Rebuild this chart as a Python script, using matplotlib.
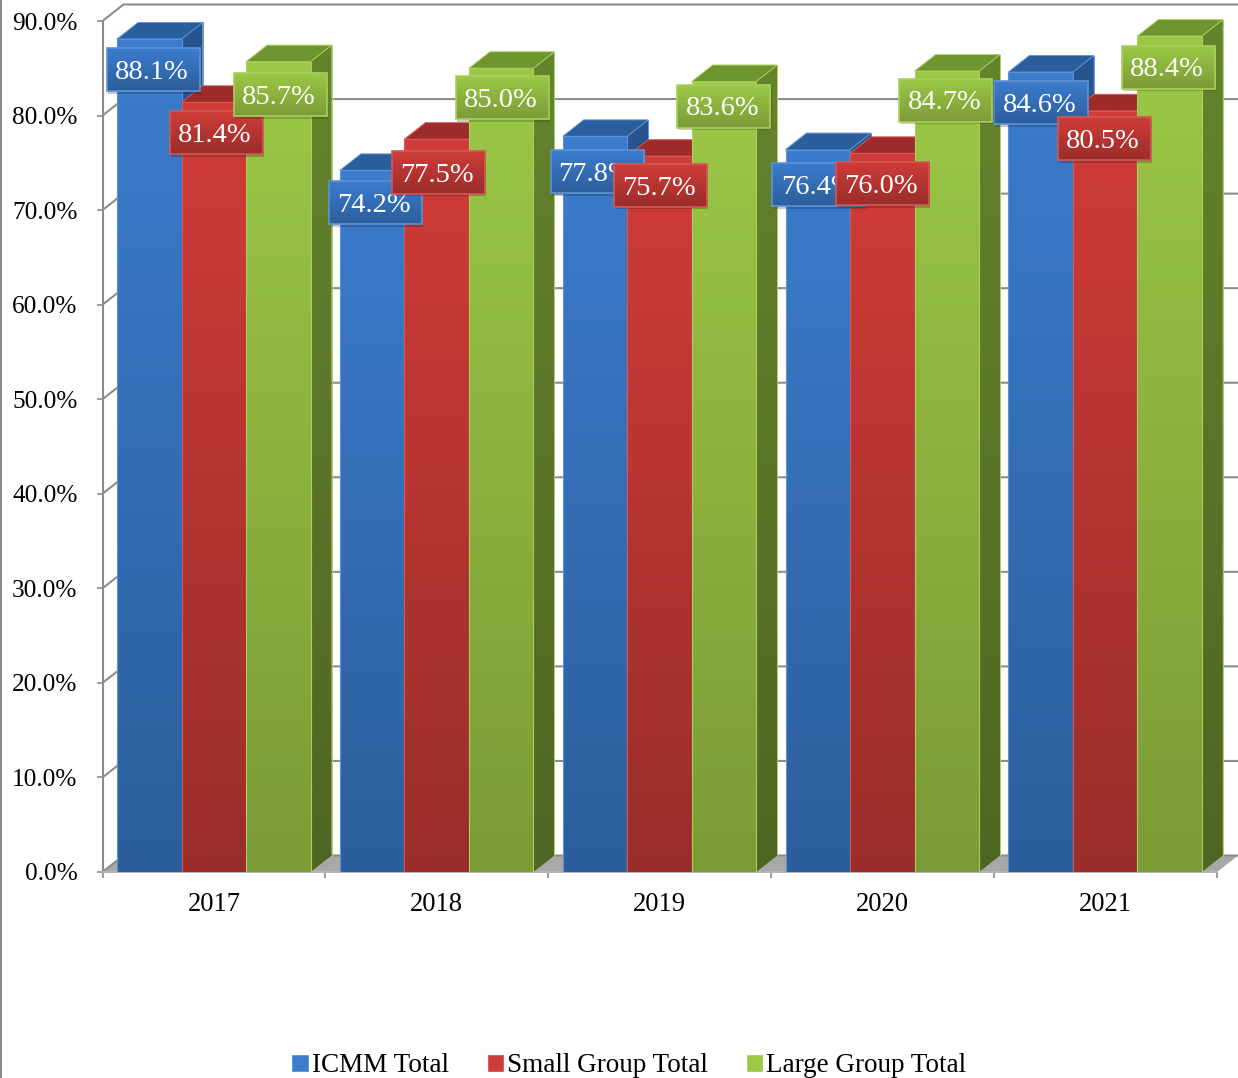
import numpy as np
import matplotlib
matplotlib.use('Agg')
import matplotlib.pyplot as plt
from matplotlib.colors import LinearSegmentedColormap
from matplotlib.lines import Line2D
from matplotlib.patches import Patch, Polygon, Rectangle
import matplotlib.patheffects as pe

plt.rcParams['font.family'] = ['Liberation Serif', 'DejaVu Serif']

years = ['2017', '2018', '2019', '2020', '2021']
names = ['ICMM Total', 'Small Group Total', 'Large Group Total']
icmm = [88.1, 74.2, 77.8, 76.4, 84.6]
small = [81.4, 77.5, 75.7, 76.0, 80.5]
large = [85.7, 85.0, 83.6, 84.7, 88.4]
yticks = [0, 10, 20, 30, 40, 50, 60, 70, 80, 90]

# front colour top/bottom, side top/bottom, roof, edge
blue = ['#3C7CCD', '#2C5E9C', '#28558F', '#1F4776', '#2B5E9C', '#5F93D3']
red = ['#D03C39', '#9A2D2A', '#8E2623', '#7A2220', '#9E2B29', '#D05A57']
green = ['#9CC846', '#7B9B37', '#64842C', '#4F6622', '#6F9530', '#A9CF5E']
grid_col = '#8C8C8C'

# the labels were moved by hand in the original, px below the bar top
label_drop = [[30.5, 32, 35, 35, 30.5],
              [30, 33, 29, 30, 27.5],
              [33, 29.5, 24.5, 29, 31]]

W, H = 1238, 1078
# pixels of the plot area
x0, y0, y90 = 102.5, 872, 21
cat_px = 222.8
pct_px = (y0 - y90) / 90
dx = 21 / cat_px
dy = 16.5 / pct_px
bar_w = 64.5 / cat_px

fig = plt.figure(figsize=(W / 100, H / 100), dpi=100, facecolor='white')
ax = fig.add_axes([x0 / W, (H - y0) / H, (W - x0) / W, y0 / H])
ax.set_xlim(0, (W - x0) / cat_px)
ax.set_ylim(0, y0 / pct_px)
ax.set_aspect('auto')


def grad(x1, x2, y1, y2, c1, c2, z, clip=None):
    cm = LinearSegmentedColormap.from_list('g', [c1, c2])
    im = ax.imshow(np.linspace(0, 1, 256).reshape(-1, 1), cmap=cm, aspect='auto',
                   extent=[x1, x2, y1, y2], origin='upper', zorder=z,
                   interpolation='bilinear')
    if clip is not None:
        ax.add_patch(clip)
        im.set_clip_path(clip)
    return im


# back wall and floor
xend = ax.get_xlim()[1]
ax.add_patch(Polygon([(0, 0), (5, 0), (5 + dx, dy), (dx, dy)], fc='#A8A8A8', ec='#A8A8A8', lw=0.5, zorder=1))
for v in yticks:
    ax.plot([0, dx, xend], [v, v + dy, v + dy], color=grid_col, lw=1.5, zorder=1.5)

series = [icmm, small, large]
styles = [blue, red, green]
z = 3
for c in range(len(years)):
    for s in range(3):
        val = series[s][c]
        st = styles[s]
        left = c + 0.5 + (s - 1.5) * bar_w
        right = left + bar_w
        side = Polygon([(right, 0), (right + dx, dy), (right + dx, val + dy), (right, val)],
                       fc='none', ec='none', zorder=z)
        grad(right, right + dx, 0, val + dy, st[2], st[3], z, clip=side)
        ax.plot([right + dx, right + dx], [dy, val + dy], color=st[5], lw=0.7, zorder=z + 0.1)
        ax.add_patch(Polygon([(left, val), (right, val), (right + dx, val + dy), (left + dx, val + dy)],
                             fc=st[4], ec=st[5], lw=0.7, zorder=z + 0.1))
        grad(left, right, 0, val, st[0], st[1], z + 0.2)
        ax.add_patch(Rectangle((left, 0), bar_w, val, fc='none', ec=st[5], lw=0.8, zorder=z + 0.3))
        z += 1

# data labels
lab_w = 93 / cat_px
lab_h = 43 / pct_px
lab_step = 63.5 / cat_px
lab_pitch = 222 / cat_px
lab_dx = 2.6 / cat_px
z = 40
for s in range(3):
    st = styles[s]
    for c in range(len(years)):
        val = series[s][c]
        cx = c * lab_pitch + 0.5 + (s - 1) * lab_step + lab_dx
        cy = val - label_drop[s][c] / pct_px
        rect = Rectangle((cx - lab_w / 2, cy - lab_h / 2), lab_w, lab_h, fc=st[0], ec='none', zorder=z,
                         path_effects=[pe.SimplePatchShadow(offset=(1, -2), alpha=0.25), pe.Normal()])
        ax.add_patch(rect)
        grad(cx - lab_w / 2, cx + lab_w / 2, cy - lab_h / 2, cy + lab_h / 2, st[0], st[1], z + 0.1)
        ax.add_patch(Rectangle((cx - lab_w / 2, cy - lab_h / 2), lab_w, lab_h, fc='none', ec=st[5],
                               lw=1.2, zorder=z + 0.2))
        ax.text(cx - 1.5 / cat_px, cy - 0.3, f'{val:.1f}%', color='white', fontsize=20.5, ha='center',
                va='center', zorder=z + 0.3)
        z += 1

ax.set_xlim(0, xend)
ax.set_ylim(0, y0 / pct_px)

# axes
for k in ['top', 'right']:
    ax.spines[k].set_visible(False)
ax.patch.set_alpha(0)
ax.spines['left'].set_bounds(0, 90)
ax.spines['left'].set_color(grid_col)
ax.spines['left'].set_linewidth(1.5)
ax.spines['bottom'].set_bounds(0, 5)
ax.spines['bottom'].set_color('#B5B5B5')
ax.spines['bottom'].set_linewidth(1.5)
ax.set_yticks(yticks)
ax.set_yticklabels([f'{v:.1f}%' for v in yticks], fontsize=18.2, color='black')
ax.tick_params(axis='y', length=4.5, width=1.2, color=grid_col, pad=13.5)
ax.set_xticks(np.arange(6))
ax.set_xticklabels([])
ax.set_xticks(np.arange(5) + 0.5, minor=True)
ax.set_xticklabels(years, minor=True, fontsize=19.2, color='black')
ax.tick_params(axis='x', which='major', length=4.5, width=1.2, color=grid_col)
ax.tick_params(axis='x', which='minor', length=0, pad=14.5)

# legend
handles = [Patch(fc=st[0], ec=st[5], lw=0.6) for st in styles]
fig.legend(handles, names, loc='center', bbox_to_anchor=(629.5 / W, (H - 1066) / H), ncol=3, frameon=False,
           fontsize=19.5, handlelength=0.56, handleheight=0.56, handletextpad=0.15, columnspacing=1.45,
           borderpad=0, borderaxespad=0)

# page edge on the left
fig.add_artist(Line2D([0.0008, 0.0008], [0, 1], color='#8C8C8C', lw=1.5))

fig.savefig('out.png', dpi=100)
